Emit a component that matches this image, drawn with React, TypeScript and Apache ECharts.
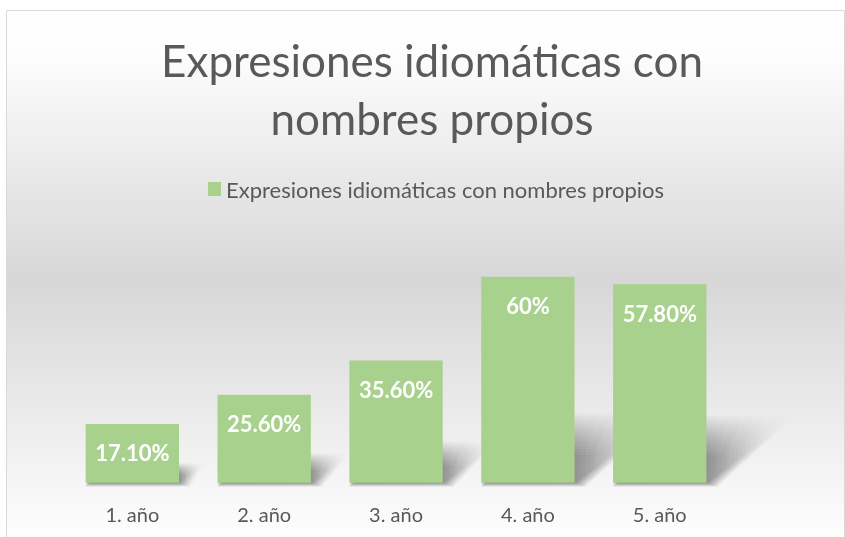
import React, { useEffect, useRef } from "react";
import * as echarts from "echarts";

const titleLines = ["Expresiones idiomáticas con", "nombres propios"];
const seriesName = "Expresiones idiomáticas con nombres propios";
const categories = ["1. año", "2. año", "3. año", "4. año", "5. año"];
const values = [17.1, 25.6, 35.6, 60, 57.8];
const valueLabels = ["17.10%", "25.60%", "35.60%", "60%", "57.80%"];

const FONT = "Lato, 'Open Sans', sans-serif";
const TEXT = "#595959";
const BAR = "#a9d18e";
const BAR_FRACTION = 0.708;

export default function App() {
  const ref = useRef<HTMLDivElement>(null);
  useEffect(() => {
    if (!ref.current) return;
    const chart = echarts.init(ref.current, null, { renderer: "svg" });
    const option: any = {
      animation: false,
      graphic: [
        {
          type: "rect",
          z: -10,
          silent: true,
          shape: { x: 6.5, y: 10.5, width: 838, height: 540 },
          style: {
            stroke: "#d9d9d9",
            lineWidth: 1,
            fill: new echarts.graphic.LinearGradient(0, 0, 0, 1, [
              { offset: 0, color: "#ffffff" },
              { offset: 0.08, color: "#fdfdfd" },
              { offset: 0.5, color: "#d7d7d7" },
              { offset: 0.97, color: "#fdfdfd" },
              { offset: 1, color: "#ffffff" },
            ]),
          },
        },
      ],
      title: {
        text: titleLines.join("\n"),
        left: 427,
        textAlign: "center",
        top: 26,
        textStyle: {
          fontFamily: FONT,
          fontWeight: "normal",
          fontSize: 44,
          lineHeight: 58,
          color: TEXT,
        },
      },
      legend: {
        data: [seriesName],
        left: 203,
        top: 173,
        itemWidth: 13,
        itemHeight: 14,
        icon: "rect",
        textStyle: { fontFamily: FONT, fontSize: 22, color: TEXT },
      },
      grid: { left: 66.4, right: 119.3, top: 242.4, bottom: 54.3 },
      xAxis: {
        type: "category",
        data: categories,
        axisLine: { show: false },
        axisTick: { show: false },
        axisLabel: {
          margin: 21,
          fontFamily: FONT,
          fontSize: 20,
          color: TEXT,
        },
      },
      yAxis: {
        type: "value",
        min: 0,
        max: 70,
        show: false,
        splitLine: { show: false },
      },
      series: [
        {
          type: "custom",
          name: "shadow",
          z: 1,
          silent: true,
          data: values.map((v, i) => [i, v]),
          renderItem: (params: any, api: any) => {
            const idx = api.value(0);
            const v = api.value(1);
            const base = api.coord([idx, 0]);
            const top = api.coord([idx, v]);
            const bw = api.size([1, 0])[0] * BAR_FRACTION;
            const H = base[1] - top[1];
            const xL = base[0] - bw / 2;
            const xR = base[0] + bw / 2;
            const dx = H * 0.36;
            const dy = H * 0.25;
            const children: any[] = [];
            const layers = 16;
            for (let k = 0; k < layers; k++) {
              const p = k / (layers - 1);
              const t = 0.5 + 0.75 * p;
              const u = 0.55 + 0.8 * p;
              const s = 1 + 10 * p;
              const ex = xR + dx * t;
              const f = (xR - xL) / (ex - xL);
              const yb = base[1] + 4 * p;
              children.push({
                type: "polygon",
                shape: {
                  points: [
                    [xL, yb],
                    [xR + s, yb],
                    [ex, base[1] - dy * u],
                    [xL + dx * t, base[1] - dy * u],
                  ],
                },
                style: {
                  fill: new echarts.graphic.LinearGradient(0, 0, 1, 0, [
                    { offset: 0, color: "rgba(0,0,0,0.034)" },
                    { offset: f, color: "rgba(0,0,0,0.032)" },
                    { offset: 1, color: "rgba(0,0,0,0)" },
                  ]),
                },
              });
            }
            return { type: "group", children };
          },
        },
        {
          type: "bar",
          name: seriesName,
          z: 2,
          data: values,
          barWidth: BAR_FRACTION * 100 + "%",
          itemStyle: { color: BAR },
          label: {
            show: true,
            position: "insideTop",
            distance: 18,
            fontFamily: FONT,
            fontWeight: "bold",
            fontSize: 22,
            color: "#ffffff",
            formatter: (p: any) => valueLabels[p.dataIndex],
          },
        },
      ],
    };
    chart.setOption(option);
    return () => chart.dispose();
  }, []);
  return (
    <div
      ref={ref}
      style={{ position: "fixed", left: 0, top: 0, width: 845, height: 537 }}
    />
  );
}
